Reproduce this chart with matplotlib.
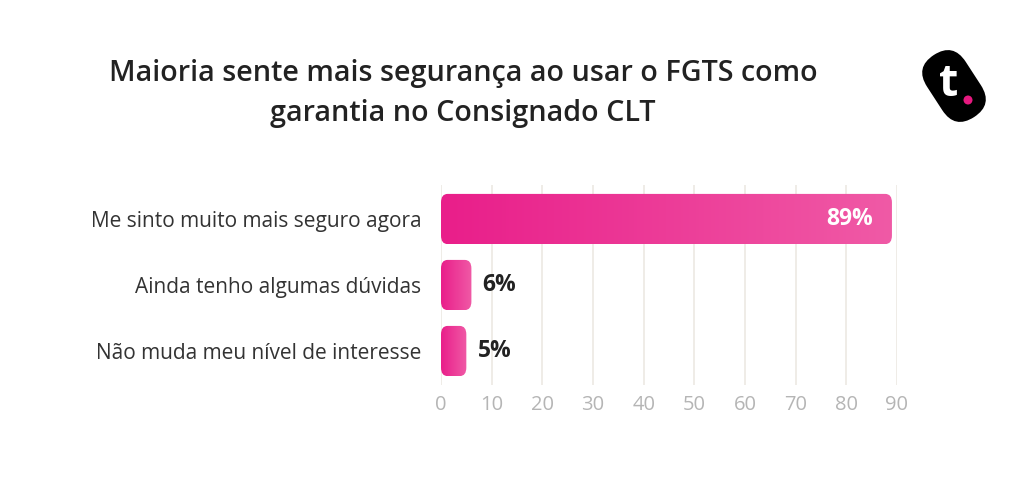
import numpy as np
import matplotlib
matplotlib.use("Agg")
import matplotlib.pyplot as plt
from matplotlib.patches import FancyBboxPatch, Ellipse
from matplotlib.colors import LinearSegmentedColormap
import matplotlib.transforms as mtransforms

plt.rcParams['font.family'] = ['Open Sans', 'DejaVu Sans']

categories = ["Me sinto muito mais seguro agora",
              "Ainda tenho algumas dúvidas",
              "Não muda meu nível de interesse"]
values = [89, 6, 5]
value_labels = ["89%", "6%", "5%"]
xticks = [0, 10, 20, 30, 40, 50, 60, 70, 80, 90]
title = "Maioria sente mais segurança ao usar o FGTS como\ngarantia no Consignado CLT"

W, H = 1024, 493
fig = plt.figure(figsize=(W / 100, H / 100), dpi=100)
fig.patch.set_facecolor("white")

ax = fig.add_axes([441 / W, (H - 385) / H, 456 / W, 200 / H])

cmap = LinearSegmentedColormap.from_list("pink", ["#E91E8A", "#F05AA6"])
grad = np.linspace(0, 1, 256).reshape(1, -1)

bars = ax.barh(range(len(categories)), values, height=0.76, color="none")
for bar, v, lab in zip(bars, values, value_labels):
    x0, y0 = bar.get_x(), bar.get_y()
    w, h = bar.get_width(), bar.get_height()
    patch = FancyBboxPatch((x0, y0), w, h,
                           boxstyle="round,pad=0,rounding_size=1.3",
                           mutation_aspect=0.1,
                           facecolor="none", edgecolor="none", zorder=2)
    ax.add_patch(patch)
    im = ax.imshow(grad, cmap=cmap, extent=(x0, x0 + w, y0 + h, y0),
                   aspect="auto", zorder=2, interpolation="bicubic")
    im.set_clip_path(patch)
    if v > 20:
        ax.text(x0 + w - 3.8, y0 + h / 2, lab, color="white", fontsize=16.5,
                fontweight="bold", ha="right", va="center", zorder=3)
    else:
        ax.text(x0 + w + 2.2, y0 + h / 2, lab, color="#222222", fontsize=16.5,
                fontweight="bold", ha="left", va="center", zorder=3)

ax.set_xlim(0, 90)
ax.set_ylim(len(categories) - 0.485, -0.515)
ax.set_xticks(xticks)
ax.set_xticklabels([str(t) for t in xticks], color="#B5B5B5", fontsize=14.5)
ax.set_yticks(range(len(categories)))
ax.set_yticklabels(categories, color="#333333", fontsize=15)
ax.tick_params(axis="both", length=0)
ax.tick_params(axis="y", pad=14)
ax.tick_params(axis="x", pad=7)
for s in ax.spines.values():
    s.set_visible(False)
ax.grid(axis="x", color="#EEEAE5", linewidth=1.3, zorder=0)
ax.set_axisbelow(True)

fig.text(463 / W, 1 - 93 / H, title, ha="center", va="center", fontsize=20.7,
         fontweight="semibold", color="#222222", linespacing=1.5)

# logo
lax = fig.add_axes([904 / W, 1 - 136 / H, 100 / W, 100 / H])
lax.set_xlim(0, 100)
lax.set_ylim(100, 0)
lax.set_aspect("equal")
lax.axis("off")
stadium = FancyBboxPatch((-23, -37), 46, 74, boxstyle="round,pad=0,rounding_size=23",
                         facecolor="black", edgecolor="none")
t = mtransforms.Affine2D().rotate_deg(-33).translate(50, 50) + lax.transData
stadium.set_transform(t)
lax.add_patch(stadium)
lax.text(45, 49, "t", color="white", fontsize=32, fontweight="bold",
         ha="center", va="center")
lax.add_patch(Ellipse((64, 64), 9, 9, facecolor="#E6197F", edgecolor="none"))

fig.savefig("out.png", dpi=100, facecolor="white")
